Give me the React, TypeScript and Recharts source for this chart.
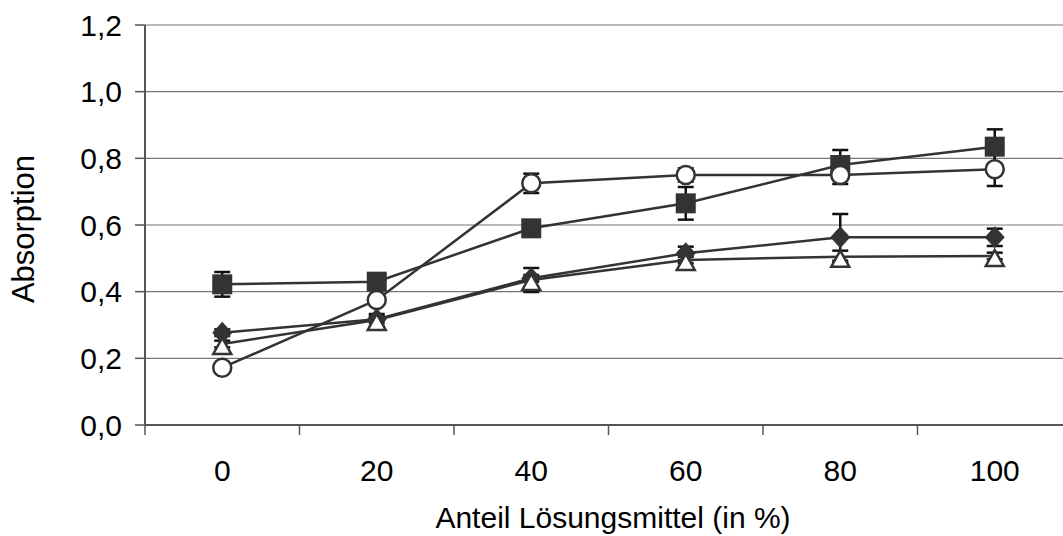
import React from 'react';
import { LineChart, Line, XAxis, YAxis, CartesianGrid, ErrorBar } from 'recharts';

const xValues = [0, 20, 40, 60, 80, 100];
const yTicks = [0, 0.2, 0.4, 0.6, 0.8, 1.0, 1.2];

const squareMean = [0.422, 0.43, 0.59, 0.665, 0.78, 0.835];
const squareErr = [0.037, 0.01, 0.01, 0.049, 0.045, 0.052];
const diamondMean = [0.277, 0.317, 0.44, 0.515, 0.563, 0.563];
const diamondErr = [0.01, 0.01, 0.01, 0.02, 0.07, 0.026];
const circleMean = [0.172, 0.375, 0.725, 0.75, 0.75, 0.767];
const circleErr = [0.01, 0.01, 0.029, 0.02, 0.027, 0.05];
const triangleMean = [0.243, 0.315, 0.435, 0.495, 0.505, 0.507];
const triangleErr = [0.01, 0.018, 0.036, 0.01, 0.018, 0.01];

const data = xValues.map((x, i) => ({
    x,
    square: squareMean[i],
    squareErr: squareErr[i],
    diamond: diamondMean[i],
    diamondErr: diamondErr[i],
    circle: circleMean[i],
    circleErr: circleErr[i],
    triangle: triangleMean[i],
    triangleErr: triangleErr[i],
}));

const DARK = '#333333';
const FONT = '"Liberation Sans", Arial, sans-serif';
const HALF_BAND = 77.25;

const SquareDot = (p: any) => (
    <rect key={`sq-${p.index}`} x={p.cx - 10} y={p.cy - 10} width={20} height={20} fill={DARK} />
);
const DiamondDot = (p: any) => (
    <polygon
        key={`di-${p.index}`}
        points={`${p.cx},${p.cy - 11} ${p.cx + 10},${p.cy} ${p.cx},${p.cy + 11} ${p.cx - 10},${p.cy}`}
        fill={DARK}
    />
);
const CircleDot = (p: any) => (
    <circle key={`ci-${p.index}`} cx={p.cx} cy={p.cy} r={9} fill="#fff" stroke={DARK} strokeWidth={2.5} />
);
const TriangleDot = (p: any) => (
    <polygon
        key={`tr-${p.index}`}
        points={`${p.cx},${p.cy - 6} ${p.cx + 9},${p.cy + 10} ${p.cx - 9},${p.cy + 10}`}
        fill="#fff"
        stroke={DARK}
        strokeWidth={2.5}
        strokeLinejoin="miter"
    />
);

const XTick = (props: any) => {
    const { x, y, payload } = props;
    return (
        <g>
            <line x1={x - HALF_BAND} y1={y - 10} x2={x - HALF_BAND} y2={y} stroke="#555" strokeWidth={1.5} />
            <text x={x} y={y + 46} textAnchor="middle" fill="#000" fontSize={30} fontFamily={FONT}>
                {payload.value}
            </text>
        </g>
    );
};

export default function App() {
    return (
        <div style={{ position: 'absolute', left: 0, top: 0, background: '#fff', width: 1063, height: 536, overflow: 'hidden' }}>
            <LineChart width={1063} height={536} data={data} margin={{ top: 25, right: -9, left: 0, bottom: 0 }}>
                <CartesianGrid vertical={false} stroke="#777" strokeWidth={1.2} />
                <XAxis
                    dataKey="x"
                    type="number"
                    domain={[-10, 110]}
                    ticks={xValues}
                    height={111}
                    tickLine={false}
                    tickSize={10}
                    tickMargin={0}
                    axisLine={{ stroke: '#555', strokeWidth: 2 }}
                    tick={<XTick />}
                    label={{
                        content: () => (
                            <text x={613} y={528} textAnchor="middle" fill="#000" fontSize={30} fontFamily={FONT}>
                                Anteil Lösungsmittel (in %)
                            </text>
                        ),
                    }}
                />
                <YAxis
                    type="number"
                    domain={[0, 1.2]}
                    ticks={yTicks}
                    width={145}
                    tickSize={10}
                    tickMargin={13}
                    tickFormatter={(v: number) => v.toFixed(1).replace('.', ',')}
                    tick={{ fill: '#000', fontSize: 30, fontFamily: FONT }}
                    tickLine={{ stroke: '#555', strokeWidth: 1.5 }}
                    axisLine={{ stroke: '#555', strokeWidth: 2 }}
                    label={{
                        content: () => (
                            <text
                                x={23}
                                y={229}
                                transform="rotate(-90 23 229)"
                                textAnchor="middle"
                                dominantBaseline="central"
                                fill="#000"
                                fontSize={31}
                                fontFamily={FONT}
                            >
                                Absorption
                            </text>
                        ),
                    }}
                />
                <Line dataKey="square" type="linear" stroke={DARK} strokeWidth={2.5} dot={SquareDot} activeDot={false} isAnimationActive={false}>
                    <ErrorBar dataKey="squareErr" width={8} stroke="#111" strokeWidth={2.5} direction="y" />
                </Line>
                <Line dataKey="diamond" type="linear" stroke={DARK} strokeWidth={2.5} dot={DiamondDot} activeDot={false} isAnimationActive={false}>
                    <ErrorBar dataKey="diamondErr" width={8} stroke="#111" strokeWidth={2.5} direction="y" />
                </Line>
                <Line dataKey="circle" type="linear" stroke={DARK} strokeWidth={2.5} dot={CircleDot} activeDot={false} isAnimationActive={false}>
                    <ErrorBar dataKey="circleErr" width={8} stroke="#111" strokeWidth={2.5} direction="y" />
                </Line>
                <Line dataKey="triangle" type="linear" stroke={DARK} strokeWidth={2.5} dot={TriangleDot} activeDot={false} isAnimationActive={false}>
                    <ErrorBar dataKey="triangleErr" width={8} stroke="#111" strokeWidth={2.5} direction="y" />
                </Line>
            </LineChart>
        </div>
    );
}
